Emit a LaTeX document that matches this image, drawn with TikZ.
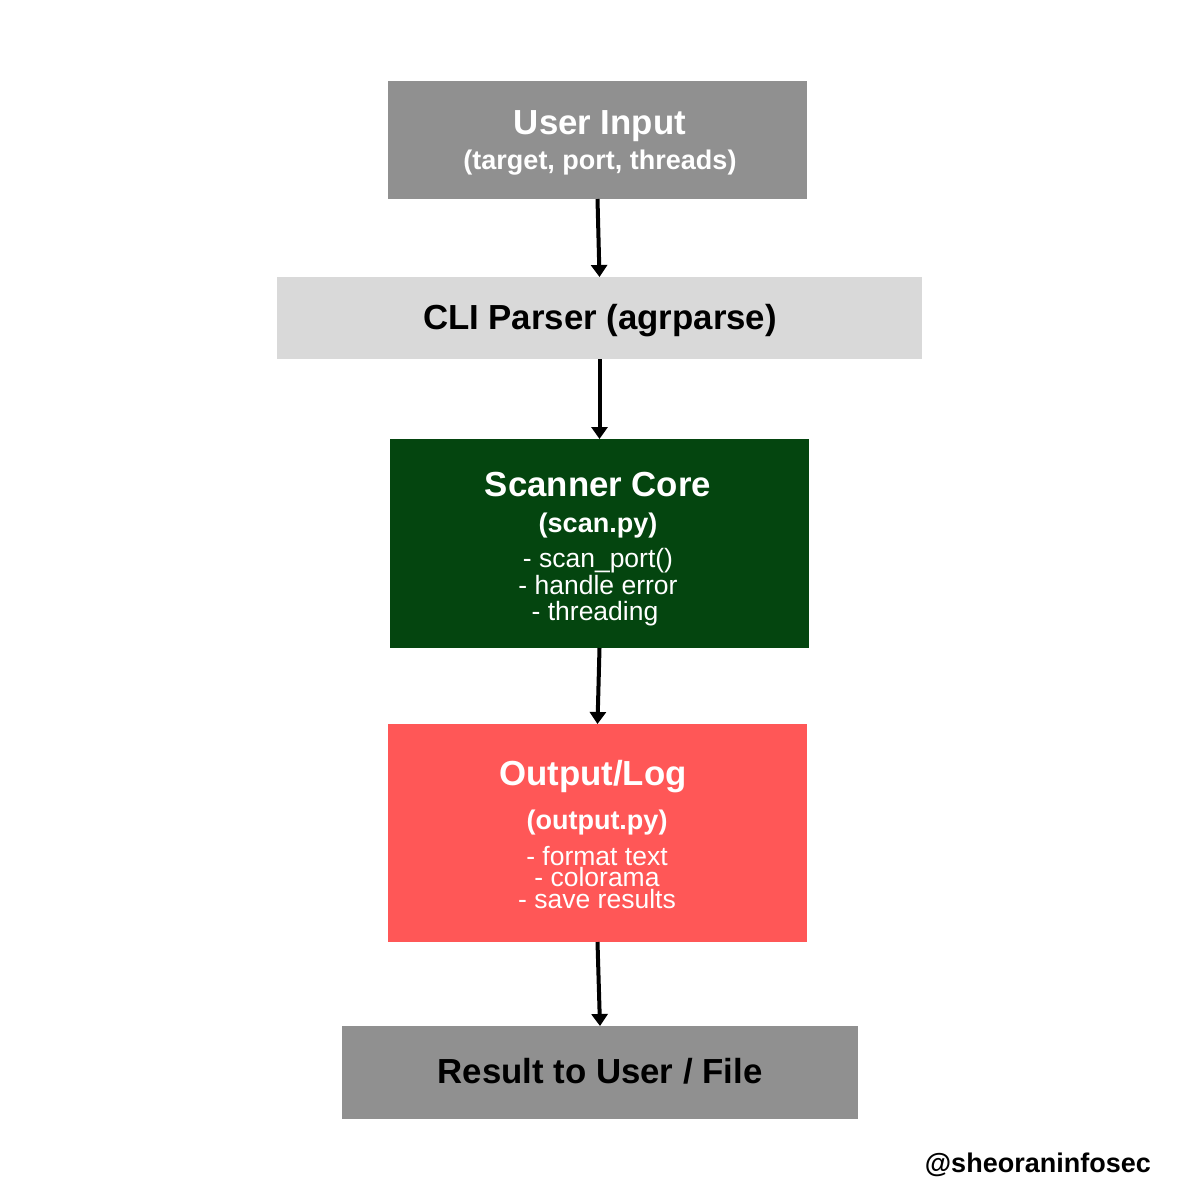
\documentclass[tikz,border=0pt]{standalone}
\usepackage{fontspec}
\setmainfont{Liberation Sans}
\usetikzlibrary{arrows.meta}
\definecolor{boxgray}{HTML}{909090}
\definecolor{boxlight}{HTML}{D9D9D9}
\definecolor{boxgreen}{HTML}{04450F}
\definecolor{boxred}{HTML}{FF5757}
\tikzset{
  blk/.style={draw=none, inner sep=0pt, outer sep=0pt, anchor=north west},
  ttl/.style={anchor=base, inner sep=0pt, font=\fontsize{34.8}{35}\selectfont\bfseries},
  sub/.style={anchor=base, inner sep=0pt, font=\fontsize{27}{27}\selectfont\bfseries},
  itm/.style={anchor=base, inner sep=0pt, font=\fontsize{26.5}{26}\selectfont},
  flow/.style={line width=4pt, -{Triangle[width=16pt,length=12pt]}, shorten >=0pt}
}
\begin{document}
\begin{tikzpicture}[x=1pt,y=-1pt]
\useasboundingbox (0,0) rectangle (1200,1200);
\fill[white] (0,0) rectangle (1200,1200);
% boxes
\node[blk, fill=boxgray, minimum width=419pt, minimum height=118pt] (ui) at (388,81) {};
\node[blk, fill=boxlight, minimum width=645pt, minimum height=82pt] (cli) at (277,277) {};
\node[blk, fill=boxgreen, minimum width=419pt, minimum height=209pt] (core) at (390,439) {};
\node[blk, fill=boxred, minimum width=419pt, minimum height=218pt] (out) at (388,724) {};
\node[blk, fill=boxgray, minimum width=516pt, minimum height=93pt] (res) at (342,1026) {};
% texts
\node[ttl, text=white] (uit) at (600,134) {User Input};
\node[sub, text=white] (uis) at (600,169) {(target, port, threads)};
\node[ttl, text=black] (clit) at (600,329) {CLI Parser (agrparse)};
\node[ttl, text=white] (coret) at (598,496) {Scanner Core};
\node[sub, text=white] (cores) at (598,532) {(scan.py)};
\node[itm, text=white] (corea) at (598,567) {- scan\_port()};
\node[itm, text=white] (coreb) at (598,594) {- handle error};
\node[itm, text=white] (corec) at (595,620) {- threading};
\node[ttl, text=white] (outt) at (593,785) {Output/Log};
\node[sub, text=white] (outs) at (597,829) {(output.py)};
\node[itm, text=white] (outa) at (597,865) {- format text};
\node[itm, text=white] (outb) at (597,886) {- colorama};
\node[itm, text=white] (outc) at (597,908) {- save results};
\node[ttl, text=black] (rest) at (600,1083) {Result to User / File};
\node[anchor=base east, inner sep=0pt, font=\fontsize{27}{27}\selectfont\bfseries] (wm) at (1151,1172) {@sheoraninfosec};
% arrows
\draw[flow] (ui.south) -- (cli.north);
\draw[flow] (cli.south) -- (core.north);
\draw[flow] (core.south) -- (out.north);
\draw[flow] (out.south) -- (res.north);
\end{tikzpicture}
\end{document}
